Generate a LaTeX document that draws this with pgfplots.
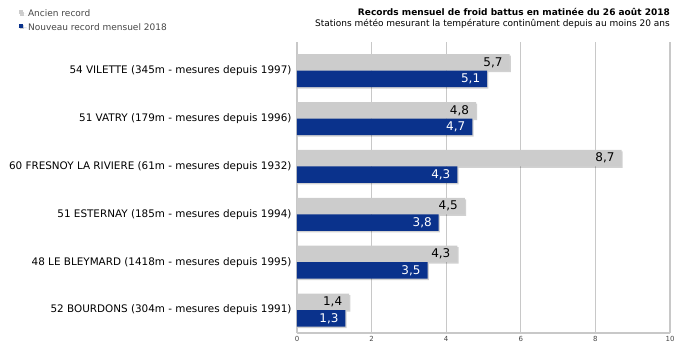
\documentclass[border=0pt]{standalone}
\usepackage{pgfplots}
\pgfplotsset{compat=1.18}
\usepackage{fontspec}
\setmainfont{DejaVu Sans}
\definecolor{oldgray}{RGB}{204,204,204}
\definecolor{newblue}{RGB}{10,50,140}
\definecolor{gridgray}{RGB}{200,200,200}
\definecolor{txtgray}{RGB}{70,70,70}
\tikzset{barshadow/.style={preaction={fill=black, opacity=0.18, transform canvas={xshift=1.2pt,yshift=-1.5pt}}}}
\begin{document}
\begin{tikzpicture}
\path[use as bounding box] (0pt,0pt) rectangle (688pt,362pt);
\begin{axis}[
  at={(297pt,29pt)}, anchor=south west,
  scale only axis, width=373pt, height=291pt,
  xbar, bar width=16.5pt,
  xmin=0, xmax=10, ymin=-0.48, ymax=5.6,
  xtick={0,2,...,10},
  ytick={0,1,2,3,4,5},
  yticklabels={52 BOURDONS (304m - mesures depuis 1991),
               48 LE BLEYMARD (1418m - mesures depuis 1995),
               51 ESTERNAY (185m - mesures depuis 1994),
               60 FRESNOY LA RIVIERE (61m - mesures depuis 1932),
               51 VATRY (179m - mesures depuis 1996),
               54 VILETTE (345m - mesures depuis 1997)},
  yticklabel style={font=\fontsize{10.4}{12}\selectfont, text=black, xshift=-2pt},
  xticklabel style={font=\fontsize{7}{8}\selectfont, text=txtgray},
  /pgf/number format/assume math mode=true,
  /pgf/number format/use comma,
  /pgf/number format/fixed,
  /pgf/number format/fixed zerofill,
  /pgf/number format/precision=1,
  xticklabel={\pgfmathprintnumber[precision=0]{\tick}},
  major tick length=0pt,
  xmajorgrids, grid style={gridgray, line width=1.3pt},
  axis line style={gridgray, line width=1.3pt},
  axis x line*=bottom, axis y line*=left,
  separate axis lines,
  x axis line style={-}, y axis line style={-},
  nodes near coords,
  nodes near coords style={anchor=east, xshift=-3.5pt, font=\fontsize{12}{14}\selectfont},
  legend image code/.code={\fill[#1, preaction={}] (0pt,-0.5pt) rectangle (4pt,3.5pt); \path (0pt,0pt) -- (8pt,0pt);},
  legend style={at={(axis description cs:-0.747,1.118)}, anchor=north west,
     draw=none, fill=none, font=\fontsize{9}{10}\selectfont, text=txtgray,
     row sep=2.5pt, inner sep=0pt, nodes={inner sep=1.5pt}},
  legend cell align=left,
]
\addplot[fill=oldgray, draw=none, bar shift=8.25pt, barshadow,
  every node near coord/.append style={text=black}]
  coordinates {(1.4,0) (4.3,1) (4.5,2) (8.7,3) (4.8,4) (5.7,5)};
\addlegendentry{Ancien record}
\addplot[fill=newblue, draw=none, bar shift=-8.25pt, barshadow,
  every node near coord/.append style={text=white}]
  coordinates {(1.3,0) (3.5,1) (3.8,2) (4.3,3) (4.7,4) (5.1,5)};
\addlegendentry{Nouveau record mensuel 2018}
\end{axis}
\node[anchor=north east, align=right, inner sep=0pt, font=\fontsize{9}{11}\selectfont, text=black] at (670pt,354pt)
  {\textbf{Records mensuel de froid battus en matinée du 26 août 2018}\\Stations météo mesurant la température continûment depuis au moins 20 ans};
\end{tikzpicture}
\end{document}
